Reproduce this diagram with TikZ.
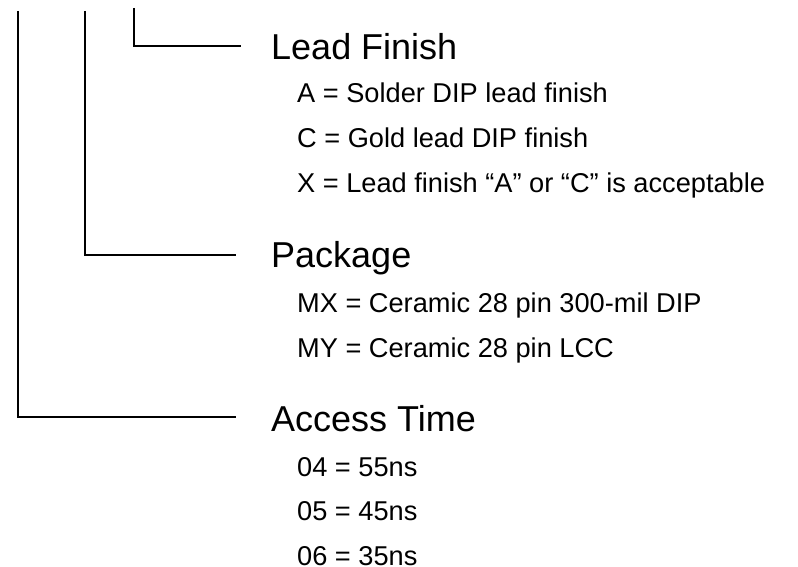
\documentclass[tikz,border=0pt]{standalone}
\usepackage{fontspec}
\setmainfont{Liberation Sans}
\begin{document}
\begin{tikzpicture}[x=1pt,y=-1pt,
  conn/.style={line width=2pt,black},
  title/.style={anchor=base west,inner sep=0pt,font=\fontsize{36}{40}\selectfont},
  item/.style={anchor=base west,inner sep=0pt,font=\fontsize{27.2}{30}\selectfont}]
\useasboundingbox (0,0) rectangle (798,567);
% connector start/end points
\coordinate (t1) at (18,11);
\coordinate (c1) at (18,417);
\coordinate (e1) at (236,417);
\coordinate (t2) at (85,11);
\coordinate (c2) at (85,255);
\coordinate (e2) at (236,255);
\coordinate (t3) at (134,8);
\coordinate (c3) at (134,46);
\coordinate (e3) at (241,46);
\draw[conn] (t1) -- (c1) -- (e1);
\draw[conn] (t2) -- (c2) -- (e2);
\draw[conn] (t3) -- (c3) -- (e3);
% Lead Finish
\node[title] (lf) at (271,60) {Lead Finish};
\node[item] (lfa) at (297,103) {A = Solder DIP lead finish};
\node[item] (lfc) at (297,148) {C = Gold lead DIP finish};
\node[item] (lfx) at (297,193) {X = Lead finish “A” or “C” is acceptable};
% Package
\node[title] (pk) at (271,267) {Package};
\node[item] (pkx) at (297,312) {MX = Ceramic 28 pin 300-mil DIP};
\node[item] (pky) at (297,357) {MY = Ceramic 28 pin LCC};
% Access Time
\node[title] (at) at (271,431) {Access Time};
\node[item] (at4) at (297,476) {04 = 55ns};
\node[item] (at5) at (297,520.5) {05 = 45ns};
\node[item] (at6) at (297,565) {06 = 35ns};
\end{tikzpicture}
\end{document}
